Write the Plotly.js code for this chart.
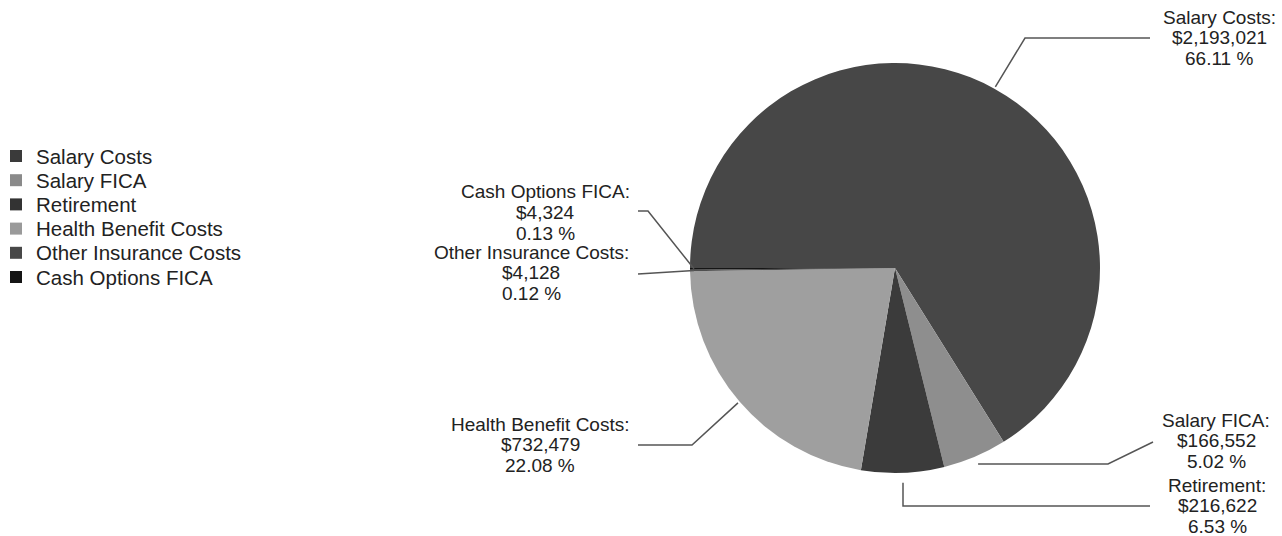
<!DOCTYPE html>
<html>
<head>
<meta charset="utf-8">
<script src="https://cdn.plot.ly/plotly-3.0.1.min.js"></script>
<style>html,body{margin:0;padding:0;background:#fff;}#chart{width:1282px;height:536px;}</style>
</head>
<body>
<div id="chart"></div>
<script>
// ---- data ----
var categories = ["Salary Costs", "Salary FICA", "Retirement", "Health Benefit Costs", "Other Insurance Costs", "Cash Options FICA"];
var amounts = [2193021, 166552, 216622, 732479, 4128, 4324];
var sliceColors = ["#474747", "#8e8e8e", "#3b3b3b", "#9f9f9f", "#4f4f4f", "#151515"];
var legendColors = ["#3a3a3a", "#8a8a8a", "#333333", "#9a9a9a", "#484848", "#151515"];

// ---- layout constants ----
var W = 1282, H = 536;
var cx = 895, cy = 268, R = 205;
var rotationDeg = 270;
var FONT = "Liberation Sans, Arial, sans-serif";
var labelLineStep = 20.8;
// label placement (pixels): tx = text centre x, ty = first line centre y
var labelPos = [
  {tx: 1219, ty: 17,  elbow: [1025, 38],  end: [1150, 38],  off: 2},
  {tx: 1216, ty: 420, elbow: [1108, 464], end: [1153, 442], off: 8, startY: 464},
  {tx: 1217, ty: 485, elbow: [903, 506],  end: [1150, 506], off: 10, vertical: true},
  {tx: 540,  ty: 424, elbow: [692, 445],  end: [638, 445],  off: 2},
  {tx: 531,  ty: 252, elbow: null,        end: [638, 274],  off: -4},
  {tx: 545,  ty: 192, elbow: [648, 211],  end: [638, 211],  off: -4}
];
var legendLeft = 10, legendSq = 12, legendTextX = 34, legendTop = 156, legendStep = 24.2;

var total = amounts.reduce(function(a, b){ return a + b; }, 0);
function fmtMoney(v){ return "$" + v.toLocaleString("en-US"); }
var px2x = function(px){ return px / W; };
var px2y = function(py){ return 1 - py / H; };

var annotations = [];
var shapes = [];
var cum = 0;
for (var i = 0; i < amounts.length; i++) {
  var frac = amounts[i] / total;
  var mid = (rotationDeg + 360 * (cum + frac / 2)) * Math.PI / 180;
  cum += frac;
  var lp = labelPos[i];
  var r = R + lp.off;
  var sx = cx + r * Math.sin(mid);
  var sy = cy - r * Math.cos(mid);
  if (lp.vertical) { sx = lp.elbow[0]; }
  if (lp.startY) { sy = lp.startY; }
  var pts = [[sx, sy]];
  if (lp.elbow) pts.push(lp.elbow);
  pts.push(lp.end);
  var path = pts.map(function(p, k){
    return (k === 0 ? "M" : "L") + px2x(p[0]).toFixed(5) + "," + px2y(p[1]).toFixed(5);
  }).join(" ");
  shapes.push({type: "path", xref: "paper", yref: "paper", path: path,
    line: {color: "#555555", width: 1.5}});

  var lines = [categories[i] + ":", fmtMoney(amounts[i]), (frac * 100).toFixed(2) + " %"];
  lines.forEach(function(t, k){
    annotations.push({
      xref: "paper", yref: "paper", x: px2x(lp.tx), y: px2y(lp.ty + k * labelLineStep),
      xanchor: "center", yanchor: "middle", showarrow: false, align: "center",
      text: t,
      font: {family: FONT, size: 19, color: "#222"}
    });
  });

  // legend row
  var ly = legendTop + legendStep * i;
  shapes.push({type: "rect", xref: "paper", yref: "paper",
    x0: px2x(legendLeft), x1: px2x(legendLeft + legendSq),
    y0: px2y(ly - legendSq / 2), y1: px2y(ly + legendSq / 2),
    fillcolor: legendColors[i], line: {width: 0}});
  annotations.push({
    xref: "paper", yref: "paper", x: px2x(legendTextX), y: px2y(ly),
    xanchor: "left", yanchor: "middle", showarrow: false, align: "left",
    text: categories[i],
    font: {family: FONT, size: 20.5, color: "#222"}
  });
}

var trace = {
  type: "pie",
  labels: categories,
  values: amounts,
  sort: false,
  direction: "clockwise",
  rotation: rotationDeg,
  textinfo: "none",
  hoverinfo: "label+value+percent",
  marker: {colors: sliceColors, line: {width: 0}},
  domain: {x: [(cx - R) / W, (cx + R) / W], y: [1 - (cy + R) / H, 1 - (cy - R) / H]}
};

var layout = {
  width: W, height: H,
  margin: {l: 0, r: 0, t: 0, b: 0},
  paper_bgcolor: "#ffffff",
  plot_bgcolor: "#ffffff",
  showlegend: false,
  annotations: annotations,
  shapes: shapes
};

Plotly.newPlot("chart", [trace], layout, {displayModeBar: false, staticPlot: true});
</script>
</body>
</html>
